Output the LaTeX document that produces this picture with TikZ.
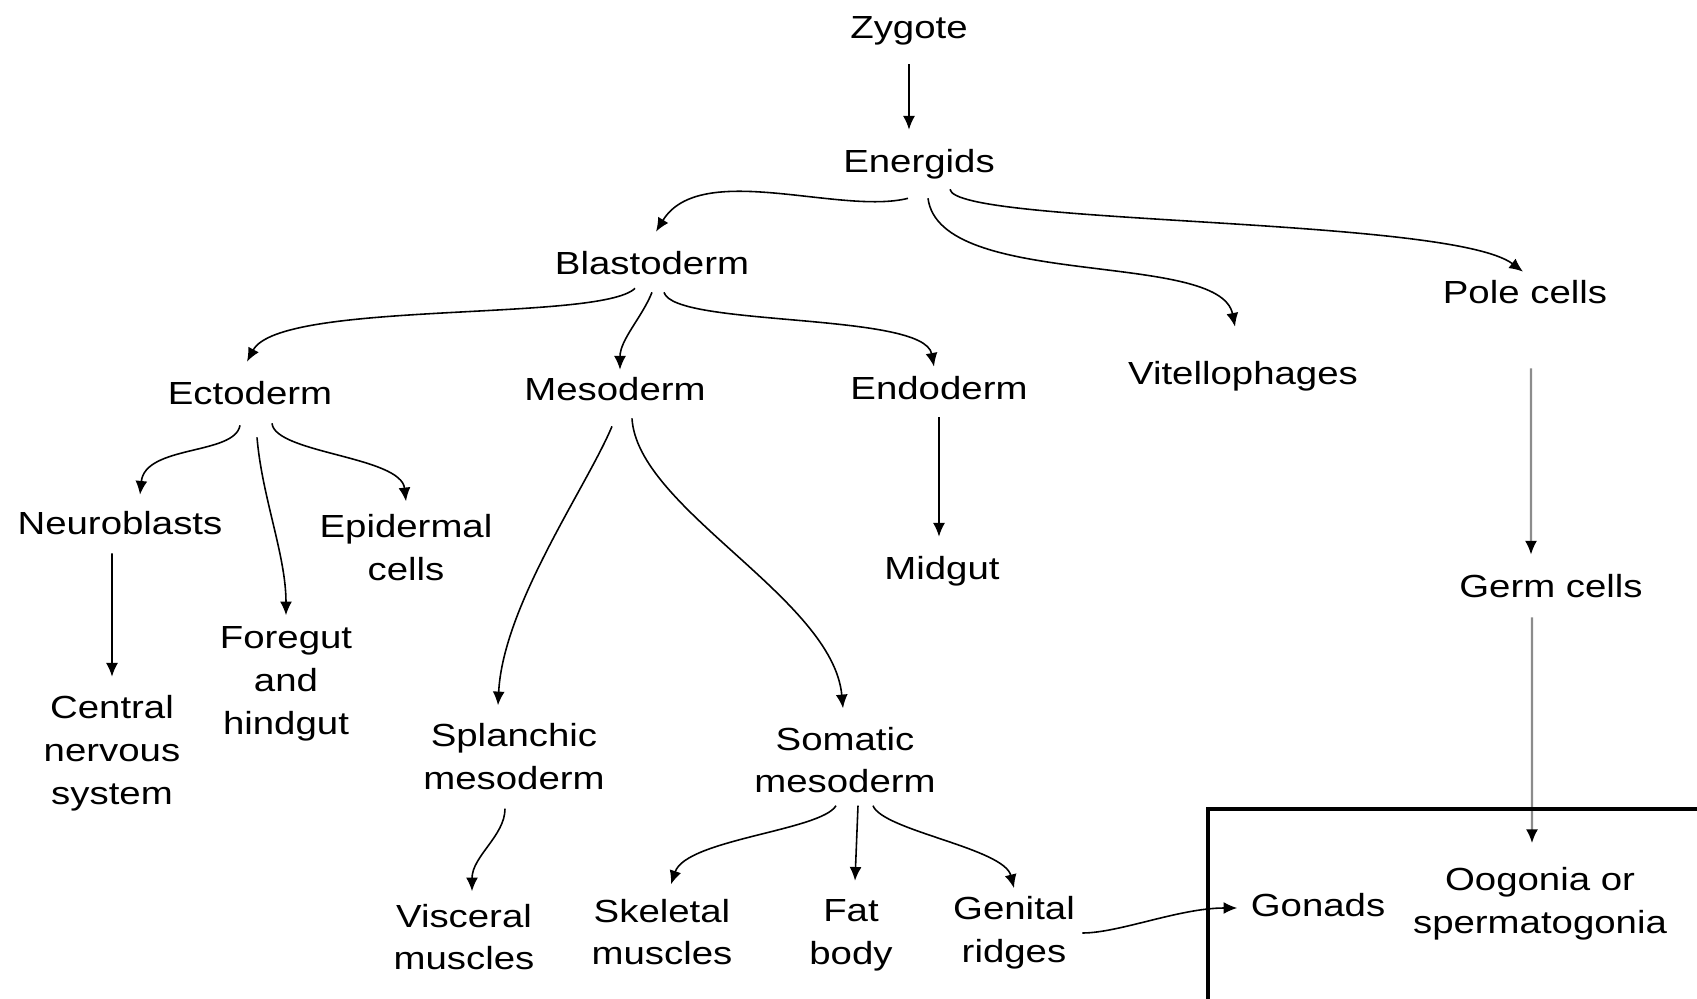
\documentclass[tikz,border=0pt]{standalone}
\usepackage{fontspec}
\setmainfont{Liberation Sans}[FakeStretch=1.2]
\usetikzlibrary{arrows.meta}

\begin{document}
\begin{tikzpicture}[font=\fontsize{9.1pt}{12.2pt}\selectfont]
    \tikzstyle{stage}=[align=center,inner sep=1pt,outer xsep=0pt,outer ysep=1.5mm];
    \tikzstyle{one}=[stage,text height=7pt,text depth=2pt];
    \tikzstyle{flow}=[-{Latex[length=3.9pt,width=3.4pt]},line width=0.45pt];
    \tikzstyle{faded}=[-{Latex[length=3.9pt,width=3.4pt,color=black]},line width=0.6pt,draw=black!45];
    \tikzstyle{frame}=[line width=1.2pt];

    \useasboundingbox (0,0) rectangle (16.97,-9.99);

    \node[one] (zygote) at (9.09,-0.30) {Zygote};
    \node[one] (energids) at (9.19,-1.64) {Energids};
    \node[one] (blasto) at (6.52,-2.66) {Blastoderm};
    \node[one] (pole) at (15.25,-2.95) {Pole cells};
    \node[one] (vitello) at (12.43,-3.76) {Vitellophages};
    \node[one] (ecto) at (2.50,-3.96) {Ectoderm};
    \node[one] (meso) at (6.15,-3.92) {Mesoderm};
    \node[one] (endo) at (9.39,-3.91) {Endoderm};
    \node[one] (neuro) at (1.20,-5.26) {Neuroblasts};
    \node[stage] (epid) at (4.06,-5.48) {Epidermal\\cells};
    \node[stage] (gut) at (2.86,-6.84) {Foregut\\and\\hindgut};
    \node[stage] (cns) at (1.12,-7.53) {Central\\nervous\\system};
    \node[one] (midgut) at (9.42,-5.71) {Midgut};
    \node[one] (germ) at (15.51,-5.89) {Germ cells};
    \node[stage] (splan) at (5.14,-7.57) {Splanchic\\mesoderm};
    \node[stage] (somatic) at (8.45,-7.60) {Somatic\\mesoderm};
    \node[stage] (visceral) at (4.64,-9.37) {Visceral\\muscles};
    \node[stage] (skeletal) at (6.62,-9.32) {Skeletal\\muscles};
    \node[stage] (fat) at (8.51,-9.35) {Fat\\body};
    \node[stage] (genital) at (10.14,-9.33) {Genital\\ridges};
    \node[one] (gonads) at (13.18,-9.08) {Gonads};
    \node[stage] (oogonia) at (15.40,-9.04) {Oogonia or\\spermatogonia};

    \draw[flow] (zygote.south) -- (zygote.south |- energids.north);
    \draw[flow] ([xshift=-1.1mm]energids.south) .. controls +(-0.68,-0.17) and +(0.44,0.72) .. ([xshift=0.4mm]blasto.north);
    \draw[flow] ([xshift=0.9mm]energids.south) .. controls +(0.12,-0.92) and +(-0.15,0.77) .. ([xshift=-0.8mm,yshift=1.5mm]vitello.north);
    \draw[flow] ([xshift=3.1mm,yshift=0.9mm]energids.south) .. controls +(0.05,-0.36) and +(-0.73,0.55) .. ([xshift=-0.2mm,yshift=-1.1mm]pole.north);

    \draw[flow] ([xshift=-1.7mm,yshift=1.2mm]blasto.south) .. controls +(-0.35,-0.34) and +(0.33,0.62) .. ([xshift=-0.3mm]ecto.north);
    \draw[flow] ([yshift=0.8mm]blasto.south) .. controls +(-0.10,-0.25) and +(0,0.30) .. ([xshift=0.5mm,yshift=-1.2mm]meso.north);
    \draw[flow] ([xshift=1.2mm,yshift=0.8mm]blasto.south) .. controls +(0.10,-0.35) and +(-0.10,0.55) .. ([xshift=-0.5mm,yshift=-1mm]endo.north);

    \draw[flow] ([xshift=-1mm,yshift=0.5mm]ecto.south) .. controls +(-0.05,-0.30) and +(0.05,0.50) .. ([xshift=2mm,yshift=-0.3mm]neuro.north);
    \draw[flow] ([xshift=0.7mm,yshift=-0.7mm]ecto.south) .. controls +(0.05,-0.60) and +(0,0.60) .. ([yshift=-0.7mm]gut.north);
    \draw[flow] ([xshift=2.2mm,yshift=0.7mm]ecto.south) .. controls +(0.03,-0.30) and +(-0.05,0.45) .. ([yshift=-0.5mm]epid.north);
    \draw[flow] ([xshift=-0.8mm,yshift=0.7mm]neuro.south) -- (cns.north);

    \draw[flow] ([xshift=-0.3mm]meso.south) .. controls +(-0.25,-0.60) and +(0.05,1.00) .. ([xshift=-1.6mm]splan.north);
    \draw[flow] ([xshift=1.7mm,yshift=0.8mm]meso.south) .. controls +(0.05,-0.90) and +(-0.10,1.10) .. ([xshift=-0.2mm]somatic.north);
    \draw[flow] ([yshift=0.8mm]endo.south) -- (endo.south |- midgut.north);

    \draw[faded] ([xshift=0.6mm,yshift=-3.9mm]pole.south) -- ([xshift=-2mm]germ.north);
    \draw[faded] ([xshift=-1.9mm,yshift=0.6mm]germ.south) -- ([xshift=-0.8mm,yshift=0.6mm]oogonia.north);

    \draw[flow] ([xshift=-0.9mm]splan.south) .. controls +(0,-0.27) and +(0,0.35) .. ([xshift=0.8mm,yshift=-0.6mm]visceral.north);
    \draw[flow] ([xshift=-0.9mm,yshift=0.6mm]somatic.south) .. controls +(-0.15,-0.25) and +(0.15,0.45) .. ([xshift=0.9mm,yshift=-0.4mm]skeletal.north);
    \draw[flow] ([xshift=1.3mm,yshift=0.6mm]somatic.south) -- ([xshift=0.4mm]fat.north);
    \draw[flow] ([xshift=2.8mm,yshift=0.6mm]somatic.south) .. controls +(0.10,-0.25) and +(-0.10,0.40) .. ([yshift=-1mm]genital.north);
    \draw[flow] ([xshift=0.4mm]genital.east) .. controls +(0.37,0) and +(-0.58,0) .. ([xshift=-1mm]gonads.west);

    \draw[frame] (12.08,-8.09) rectangle (17.3,-10.01);
\end{tikzpicture}
\end{document}
